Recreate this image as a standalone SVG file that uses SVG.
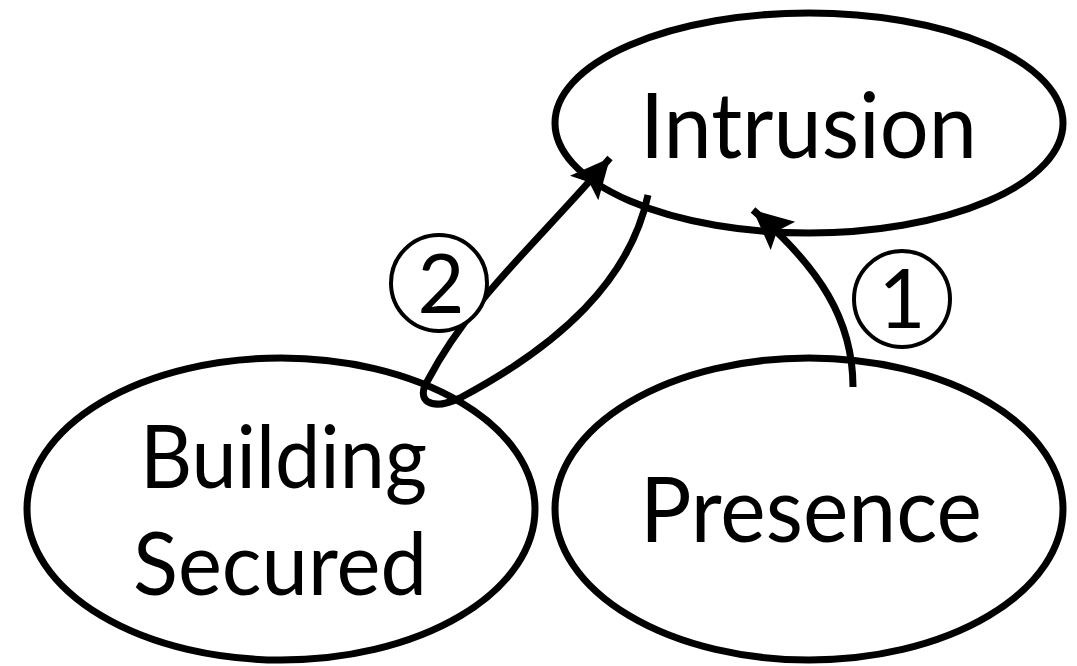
<svg xmlns="http://www.w3.org/2000/svg" width="1077" height="666" viewBox="0 0 1077 666">
<style>
.node{fill:none;stroke:#000;stroke-width:7}
.lbl{font-family:Lato,"Open Sans","Liberation Sans",sans-serif;fill:#000}
.edge{fill:none;stroke:#000;stroke-width:7}
.badge{fill:#fff;stroke:#000;stroke-width:4}
</style>
<defs>
<marker id="arr" markerUnits="userSpaceOnUse" markerWidth="44" markerHeight="44" viewBox="-38 -20 40 40" refX="0" refY="0" orient="auto">
<path d="M0,0 L-36,-17 L-29,0 L-36,17 Z" fill="#000"/>
</marker>
</defs>
<rect width="1077" height="666" fill="#fff"/>
<g id="intrusion">
<ellipse class="node" cx="809" cy="123" rx="254" ry="110"/>
<text class="lbl" x="640" y="158" font-size="91" textLength="337" lengthAdjust="spacingAndGlyphs">Intrusion</text>
</g>
<g id="building-secured">
<ellipse class="node" cx="281" cy="509" rx="254" ry="151"/>
<text class="lbl" x="140" y="488" font-size="87" textLength="287" lengthAdjust="spacingAndGlyphs">Building</text>
<text class="lbl" x="133" y="595" font-size="87" textLength="294" lengthAdjust="spacingAndGlyphs">Secured</text>
</g>
<g id="presence">
<ellipse class="node" cx="809" cy="509" rx="254" ry="151"/>
<text class="lbl" x="640" y="542" font-size="91" textLength="342" lengthAdjust="spacingAndGlyphs">Presence</text>
</g>
<g id="connectors">
<path class="edge" d="M853,387 C853,320 820,268 753,210" marker-end="url(#arr)"/>
<path class="edge" d="M648,195 C630,280 560,345 460,398 C430,412 415,400 428,380 C470,300 535,245 610,158" marker-end="url(#arr)"/>
</g>
<g id="label-1">
<circle class="badge" cx="902" cy="299" r="48"/>
<text class="lbl" x="902" y="328" font-size="81" text-anchor="middle">1</text>
</g>
<g id="label-2">
<circle class="badge" cx="439" cy="283" r="48"/>
<text class="lbl" x="441" y="313" font-size="81" text-anchor="middle">2</text>
</g>
</svg>
